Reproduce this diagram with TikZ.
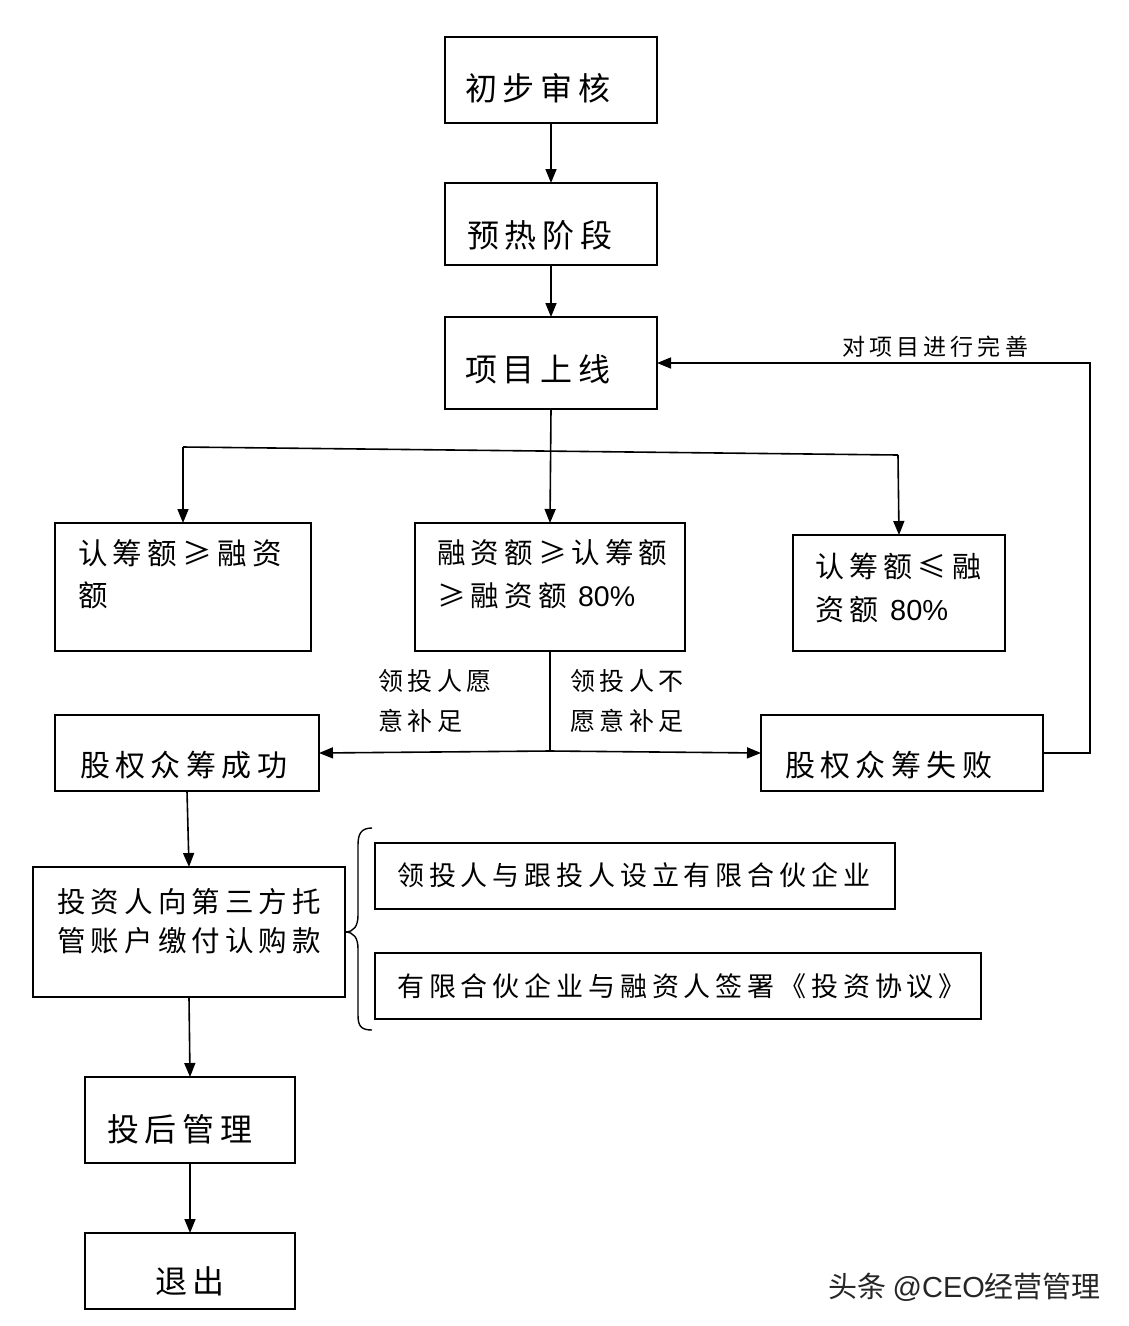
\documentclass[tikz,border=0pt]{standalone}
\usepackage{fontspec}
\setmainfont{Liberation Sans}
\newfontfamily\cjk[LetterSpace=18]{Noto Sans CJK SC}
\newfontfamily\cjkplain{Noto Sans CJK SC}
\newfontfamily\lat{Liberation Sans}
\usetikzlibrary{arrows.meta}
\newcommand\fsz[2]{\fontsize{#1}{#2}\selectfont}
\begin{document}
\begin{tikzpicture}[x=1pt,y=-1pt,
  box/.style={draw, line width=1.8pt, outer sep=0pt, inner sep=0pt},
  txt/.style={anchor=west, inner sep=0pt, align=left},
  ln/.style={line width=1.6pt},
  arr/.style={ln, -{Triangle[length=14pt,width=11pt]}}]
\useasboundingbox (0,0) rectangle (1128,1326);
\fill[white] (0,0) rectangle (1128,1326);
% boxes
\node[box, minimum width=212pt, minimum height=86pt] (b1) at (551,80) {};
\node[box, minimum width=212pt, minimum height=82pt] (b2) at (551,224) {};
\node[box, minimum width=212pt, minimum height=92pt] (b3) at (551,363) {};
\node[box, minimum width=256pt, minimum height=128pt] (c1) at (183,587) {};
\node[box, minimum width=270pt, minimum height=128pt] (c2) at (550,587) {};
\node[box, minimum width=212pt, minimum height=116pt] (c3) at (899,593) {};
\node[box, minimum width=264pt, minimum height=76pt] (s) at (187,753) {};
\node[box, minimum width=282pt, minimum height=76pt] (f) at (902,753) {};
\node[box, minimum width=312pt, minimum height=130pt] (inv) at (189,932) {};
\node[box, minimum width=520pt, minimum height=66pt] (p1) at (635,876) {};
\node[box, minimum width=606pt, minimum height=66pt] (p2) at (678,986) {};
\node[box, minimum width=210pt, minimum height=86pt] (pm) at (190,1120) {};
\node[box, minimum width=210pt, minimum height=76pt] (ex) at (190,1271) {};
% texts
\node[txt, font=\cjk\fsz{32}{38}] (t1) at (465,88) {初步审核};
\node[txt, font=\cjk\fsz{32}{38}] (t2) at (467,235) {预热阶段};
\node[txt, font=\cjk\fsz{32}{38}] (t3) at (465,369) {项目上线};
\node[txt, font=\cjk\fsz{29.5}{42}] (tc1) at (78,574) {认筹额≥融资\\额};
\node[txt, font=\cjk\fsz{28.5}{43}] (tc2) at (437,574) {融资额≥认筹额\\≥融资额 {\lat 80\%}};
\node[txt, font=\cjk\fsz{29}{43}] (tc3) at (815,588) {认筹额≤融\\资额 {\lat 80\%}};
\node[txt, font=\cjk\fsz{25}{40}] (l1) at (378,701) {领投人愿\\意补足};
\node[txt, font=\cjk\fsz{25}{40}] (l2) at (570,701) {领投人不\\愿意补足};
\node[txt, font=\cjk\fsz{30}{38}] (ts) at (80,765) {股权众筹成功};
\node[txt, font=\cjk\fsz{30}{38}] (tf) at (785,765) {股权众筹失败};
\node[txt, font=\cjk\fsz{23}{30}] (tfb) at (842,347) {对项目进行完善};
\node[txt, font=\cjk\fsz{28.5}{39}] (tinv) at (57,921) {投资人向第三方托\\管账户缴付认购款};
\node[txt, font=\cjk\fsz{27}{34}] (tp1) at (397,875) {领投人与跟投人设立有限合伙企业};
\node[txt, font=\cjk\fsz{27}{34}] (tp2) at (397,986) {有限合伙企业与融资人签署《投资协议》};
\node[txt, font=\cjk\fsz{32}{38}] (tpm) at (107,1129) {投后管理};
\node[txt, font=\cjk\fsz{32}{38}] (tex) at (155,1281) {退出};
\node[txt, font=\cjkplain\fsz{29}{34}, text=black!85] (wm) at (828,1287) {头条 {\lat @CEO}经营管理};
% connectors
\draw[arr] (b1.south) -- (b2.north);
\draw[arr] (b2.south) -- (b3.north);
\draw[arr] (b3.south) -- (c2.north);
\coordinate (jL) at (183,447);
\coordinate (jR) at (898,455);
\draw[ln] (jL) -- (jR);
\draw[arr] (jL) -- (c1.north);
\draw[arr] (jR) -- (c3.north);
\coordinate (jB) at (550,751);
\draw[ln] (c2.south) -- (jB);
\draw[arr] (jB) -- (s.east);
\draw[arr] (jB) -- (f.west);
\draw[arr] (f.east) -- ++(47,0) |- (b3.east);
\draw[arr] (s.south) -- (inv.north);
\draw[arr] (inv.south) -- (pm.north);
\draw[arr] (pm.south) -- (ex.north);
% brace
\draw[line width=1.4pt] (372,828) .. controls (361,828) and (358,834) .. (358,845) -- (358,915)
  .. controls (358,926) and (354,932) .. (inv.east)
  .. controls (354,932) and (358,938) .. (358,949) -- (358,1015)
  .. controls (358,1026) and (361,1030) .. (372,1030);
\end{tikzpicture}
\end{document}
